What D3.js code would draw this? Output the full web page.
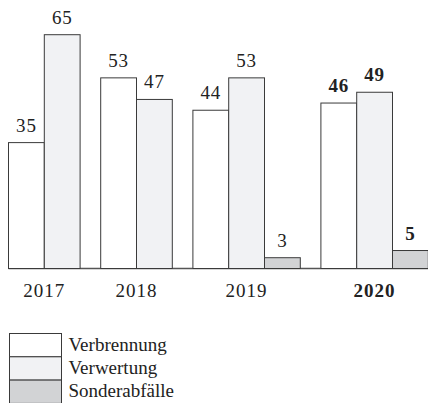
<!DOCTYPE html>
<html>
<head>
<meta charset="utf-8">
<script src="https://cdn.jsdelivr.net/npm/d3@7"></script>
<style>
  body { margin: 0; background: #fff; }
  svg { display: block; }
</style>
</head>
<body>
<svg id="chart" width="428" height="403"></svg>
<script>
var years = ["2017", "2018", "2019", "2020"];
var series = ["Verbrennung", "Verwertung", "Sonderabfälle"];
var verbrennung = [35, 53, 44, 46];
var verwertung = [65, 47, 53, 49];
var sonderabfaelle = [null, null, 3, 5];
var boldYear = "2020";

var colors = ["#ffffff", "#f1f2f4", "#d2d3d5"];
var font = "'Liberation Serif', serif";

var svg = d3.select("#chart");

var left = 8.5, barW = 35.8, groupGap = 20.6, baseY = 268.5, topY = 34.7;

var y = d3.scaleLinear().domain([0, 65]).range([baseY, topY]);
var color = d3.scaleOrdinal().domain(series).range(colors);

// build groups: only bars that exist take up room
var allValues = [verbrennung, verwertung, sonderabfaelle];
var groups = [];
var x0 = left;
years.forEach(function(yr, i){
  var bars = [];
  series.forEach(function(s, j){
    if (allValues[j][i] != null) bars.push({series: s, value: allValues[j][i], year: yr});
  });
  var xb = d3.scaleBand()
    .domain(bars.map(function(d){ return d.series; }))
    .range([x0, x0 + bars.length * barW])
    .padding(0);
  groups.push({year: yr, bars: bars, x: xb});
  x0 += bars.length * barW + groupGap;
});

// baseline
svg.append("line")
  .attr("x1", left)
  .attr("x2", 428)
  .attr("y1", baseY)
  .attr("y2", baseY)
  .attr("stroke", "#555")
  .attr("stroke-width", 1.5);

var g = svg.selectAll(".group")
  .data(groups)
  .enter().append("g")
  .attr("class", "group");

g.each(function(grp){
  var sel = d3.select(this);
  var bold = grp.year === boldYear ? "bold" : "normal";

  sel.selectAll("rect")
    .data(grp.bars)
    .enter().append("rect")
    .attr("x", function(d){ return grp.x(d.series); })
    .attr("y", function(d){ return y(d.value); })
    .attr("width", grp.x.bandwidth())
    .attr("height", function(d){ return baseY - y(d.value); })
    .attr("fill", function(d){ return color(d.series); })
    .attr("stroke", "#3a3a3a")
    .attr("stroke-width", 1);

  sel.selectAll(".val")
    .data(grp.bars)
    .enter().append("text")
    .attr("class", "val")
    .attr("x", function(d){ return grp.x(d.series) + grp.x.bandwidth() / 2; })
    .attr("y", function(d){ return y(d.value) - 11; })
    .attr("text-anchor", "middle")
    .attr("font-family", font)
    .attr("font-size", "19px")
    .attr("font-weight", bold)
    .attr("letter-spacing", "0.8px")
    .attr("fill", "#222")
    .text(function(d){ return d.value; });

  var r = grp.x.range();
  sel.append("text")
    .attr("x", (r[0] + r[1]) / 2)
    .attr("y", 296.7)
    .attr("text-anchor", "middle")
    .attr("font-family", font)
    .attr("font-size", "19px")
    .attr("font-weight", bold)
    .attr("letter-spacing", "1px")
    .attr("fill", "#222")
    .text(grp.year);
});

// legend
var legend = svg.append("g").attr("transform", "translate(9.5,333.5)");
var rowH = 23.3;

legend.selectAll("rect")
  .data(series)
  .enter().append("rect")
  .attr("x", 0)
  .attr("y", function(d, i){ return i * rowH; })
  .attr("width", 52)
  .attr("height", rowH)
  .attr("fill", function(d){ return color(d); })
  .attr("stroke", "#3a3a3a")
  .attr("stroke-width", 1);

legend.selectAll("text")
  .data(series)
  .enter().append("text")
  .attr("x", 59)
  .attr("y", function(d, i){ return i * rowH + 17; })
  .attr("font-family", font)
  .attr("font-size", "19px")
  .attr("fill", "#222")
  .text(function(d){ return d; });
</script>
</body>
</html>
